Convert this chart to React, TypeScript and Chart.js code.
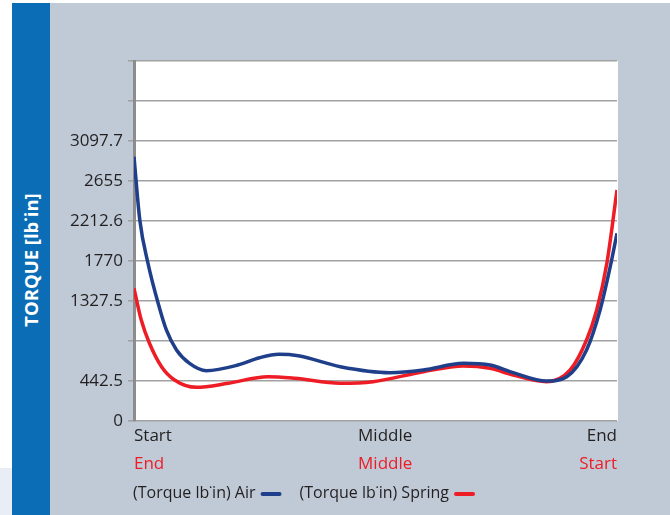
import React, { useEffect, useRef } from "react";
import { Chart, registerables } from "chart.js";

Chart.register(...registerables);

// ---- data ----
const airPosition = [0, 1.2, 2.9, 5.0, 6.7, 8.8, 11.5, 15, 21.5, 26, 30, 34, 42.7, 53, 59.9, 68.2, 73.7, 78.5, 85.4, 89.6, 93.7, 96.5, 98.6, 100];
const airTorque = [2924, 2224, 1744, 1302, 1007, 786, 638, 557, 619, 700, 738, 722, 601, 535, 564, 638, 619, 535, 442, 490, 785, 1228, 1707, 2076];
const springPosition = [0, 1.5, 3.2, 5.7, 8.4, 12.9, 19.5, 27.7, 33.3, 42.7, 49.5, 59.9, 68.2, 73.7, 78.5, 85.4, 90.3, 93.7, 95.8, 97.9, 100];
const springTorque = [1468, 1117, 860, 601, 454, 373, 417, 490, 472, 417, 435, 545, 608, 583, 509, 435, 564, 896, 1228, 1744, 2555];

const yTickValues = [0, 442.5, 885, 1327.5, 1770, 2212.6, 2655, 3097.7, 3540, 3982.5];
const yTickLabels = ["0", "442.5", "", "1327.5", "1770", "2212.6", "2655", "3097.7", "", ""];

const xLabelPositions = [0, 52, 100];
const xLabelsAir = ["Start", "Middle", "End"];
const xLabelsSpring = ["End", "Middle", "Start"];

const seriesNames = ["(Torque lb\u02d9in) Air", "(Torque lb\u02d9in) Spring"];

const AIR_COLOR = "#1f3f8b";
const SPRING_COLOR = "#ee1c25";
const TEXT_COLOR = "#231f20";
const FONT = "'Open Sans', 'Noto Sans', sans-serif";

export default function App() {
  const canvasRef = useRef<HTMLCanvasElement | null>(null);

  useEffect(() => {
    const canvas = canvasRef.current;
    if (!canvas) return;

    const backgroundPlugin = {
      id: "plotBg",
      beforeDraw(chart: any) {
        const { ctx, chartArea } = chart;
        ctx.save();
        ctx.fillStyle = "#ffffff";
        ctx.fillRect(chartArea.left, chartArea.top, chartArea.right - chartArea.left + 1, chartArea.bottom - chartArea.top);
        ctx.restore();
      },
    };

    const labelsPlugin = {
      id: "customLabels",
      afterDraw(chart: any) {
        const { ctx, chartArea } = chart;
        const xs = chart.scales.x;
        ctx.save();
        ctx.font = `17px ${FONT}`;
        ctx.textBaseline = "middle";
        const aligns = ["left", "center", "right"];
        xLabelPositions.forEach((v, i) => {
          const px = xs.getPixelForValue(v);
          ctx.textAlign = aligns[i];
          ctx.fillStyle = TEXT_COLOR;
          ctx.fillText(xLabelsAir[i], px, chartArea.bottom + 15);
          ctx.fillStyle = SPRING_COLOR;
          ctx.fillText(xLabelsSpring[i], px, chartArea.bottom + 43);
        });
        // legend with swatch after the text
        ctx.font = `16px ${FONT}`;
        ctx.textAlign = "left";
        const colors = [AIR_COLOR, SPRING_COLOR];
        let x = chartArea.left - 1;
        const y = chartArea.bottom + 72;
        seriesNames.forEach((name, i) => {
          ctx.fillStyle = TEXT_COLOR;
          ctx.fillText(name, x, y);
          const w = ctx.measureText(name).width;
          const sx = x + w + 6;
          ctx.strokeStyle = colors[i];
          ctx.lineWidth = 4;
          ctx.lineCap = "round";
          ctx.beginPath();
          ctx.moveTo(sx + 1, y + 1);
          ctx.lineTo(sx + 18, y + 1);
          ctx.stroke();
          x = sx + 19 + 19;
        });
        ctx.restore();
      },
    };

    const chart = new Chart(canvas, {
      type: "line",
      data: {
        datasets: [
          {
            label: seriesNames[0],
            data: airPosition.map((p, i) => ({ x: p, y: airTorque[i] })),
            borderColor: AIR_COLOR,
            borderWidth: 3.5,
            pointRadius: 0,
            cubicInterpolationMode: "monotone",
            fill: false,
          },
          {
            label: seriesNames[1],
            data: springPosition.map((p, i) => ({ x: p, y: springTorque[i] })),
            borderColor: SPRING_COLOR,
            borderWidth: 3.5,
            pointRadius: 0,
            cubicInterpolationMode: "monotone",
            fill: false,
          },
        ],
      },
      options: {
        responsive: false,
        animation: false,
        devicePixelRatio: 1,
        layout: { padding: { left: 0, right: 53, top: 58, bottom: 94 } },
        plugins: {
          legend: { display: false },
          tooltip: { enabled: false },
        },
        scales: {
          x: {
            type: "linear",
            min: 0,
            max: 100,
            display: false,
          },
          y: {
            type: "linear",
            min: 0,
            max: 3982.5,
            afterBuildTicks(scale: any) {
              scale.ticks = yTickValues.map((v) => ({ value: v }));
            },
            afterFit(scale: any) {
              scale.width = 84;
            },
            ticks: {
              autoSkip: false,
              padding: 5,
              color: TEXT_COLOR,
              font: { family: FONT, size: 17 },
              callback: (_v: any, i: number) => yTickLabels[i],
            },
            grid: {
              color: "#a2a2a2",
              lineWidth: 1.6,
              tickLength: 6,
              drawTicks: true,
            },
            border: { color: "#8c8c8c", width: 3 },
          },
        },
      },
      plugins: [backgroundPlugin, labelsPlugin],
    } as any);

    return () => chart.destroy();
  }, []);

  return (
    <div style={{ position: "absolute", left: 0, top: 0, width: 670, height: 515, background: "#ffffff", overflow: "hidden" }}>
      <div style={{ position: "absolute", left: 0, top: 468, width: 12, height: 47, background: "#e9edf6" }} />
      <div style={{ position: "absolute", left: 12, top: 3, width: 38, height: 512, background: "#0b6db6" }} />
      <div style={{ position: "absolute", left: 50, top: 3, width: 620, height: 512, background: "#bfcad6" }} />
      <div
        style={{
          position: "absolute",
          left: 31,
          top: 260,
          transform: "translate(-50%, -50%) rotate(-90deg)",
          color: "#ffffff",
          fontFamily: FONT,
          fontWeight: 700,
          fontSize: 18.5,
          whiteSpace: "nowrap",
          lineHeight: 1,
        }}
      >
        TORQUE [lb&#729;in]
      </div>
      <canvas ref={canvasRef} width={620} height={512} style={{ position: "absolute", left: 50, top: 3, width: 620, height: 512 }} />
    </div>
  );
}
